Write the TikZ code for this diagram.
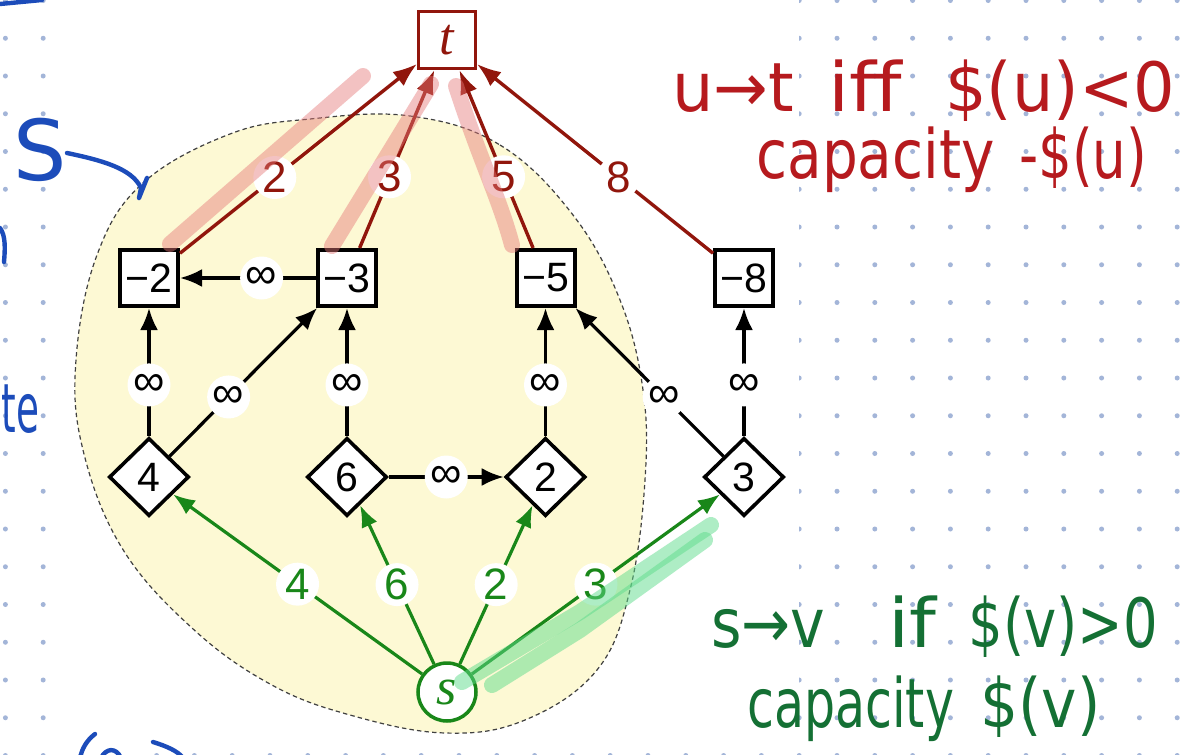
\documentclass[tikz,border=0pt]{standalone}
\usepackage{fontspec}
\usepackage{graphicx}
\usetikzlibrary{arrows.meta,shapes.geometric}
\newfontfamily\labfont{Liberation Sans}
\newfontfamily\handfont{DejaVu Sans}
\newfontfamily\varfont{Liberation Serif}
\definecolor{tred}{RGB}{145,22,12}
\definecolor{sgreen}{RGB}{25,135,25}
\definecolor{blobfill}{RGB}{253,249,212}
\definecolor{dotc}{RGB}{163,181,216}
\definecolor{hred}{RGB}{182,26,30}
\definecolor{hgreen}{RGB}{20,112,52}
\definecolor{hblue}{RGB}{28,76,186}
\definecolor{pinkhl}{RGB}{230,120,120}
\definecolor{greenhl}{RGB}{95,220,140}
\begin{document}
\begin{tikzpicture}[x=0.5pt,y=-0.5pt,
  lf/.style={font=\labfont\fontsize{22}{23}\selectfont},
  nf/.style={font=\labfont\fontsize{20.5}{21}\selectfont},
  sq/.style={nf,draw=black,line width=2pt,fill=white,rectangle,minimum width=29pt,minimum height=28pt,inner sep=0pt},
  dia/.style={nf,draw=black,line width=1.8pt,fill=white,diamond,minimum width=40pt,minimum height=39pt,inner sep=0pt},
  tbox/.style={draw=tred,line width=1.5pt,fill=white,rectangle,minimum size=28.5pt,inner sep=0pt,text=tred,font=\varfont\fontsize{26}{26}\selectfont\itshape},
  sbox/.style={draw=sgreen,line width=1.75pt,fill=white,circle,minimum size=29pt,inner sep=0pt,text=sgreen,font=\varfont\fontsize{26}{26}\selectfont\itshape},
  lab/.style={lf,fill=white,circle,inner sep=0pt,minimum size=21.5pt},
  bedge/.style={draw=black,line width=1.6pt,-{Latex[length=11pt,width=9pt]}},
  redge/.style={draw=tred,line width=1.7pt,-{Latex[length=12pt,width=9pt]}},
  gedge/.style={draw=sgreen,line width=1.6pt,-{Latex[length=11pt,width=8.5pt]}},
  hw/.style={inner sep=0pt,font=\handfont\fontsize{34}{36}\selectfont},
  pen/.style={line width=2.2pt,line cap=round,line join=round},
  pinkmark/.style={draw=pinkhl,line width=8pt,line cap=round,line join=round,opacity=.45},
  greenmark/.style={draw=greenhl,line width=8pt,line cap=round,line join=round,opacity=.5}]
\useasboundingbox (0,0) rectangle (1191,755);
\clip (0,0) rectangle (1191,755);
\fill[white] (0,0) rectangle (1191,755);
% dot grid
\foreach \i in {0,...,31}{\foreach \j in {0,...,20}{\fill[dotc] ({5.4+37.8*\i},{0.5+37.75*\j}) circle (2.5);}}
% pasted diagram background
\fill[white] (62,-5) rectangle (799,742);
% yellow region
\draw[fill=blobfill,draw=black!75,line width=0.6pt,dash pattern=on 2.2pt off 1.6pt]
  plot[smooth cycle,tension=0.65] coordinates {(410,116) (500,145) (573,215) (620,300) (643,390) (645,480) (630,590) (597,670) (525,720) (445,733) (350,715) (270,684) (192,628) (122,548) (83,450) (76,360) (97,255) (143,183) (230,134) (310,119)};
% nodes
\node[tbox] (t) at (447,40) {t};
\node[sq] (m2) at (149,278) {−2};
\node[sq] (m3) at (347,278) {−3};
\node[sq] (m5) at (545.5,278) {−5};
\node[sq] (m8) at (744,278) {−8};
\node[dia] (d4) at (149,477) {4};
\node[dia] (d6) at (347,477) {6};
\node[dia] (d2) at (545.5,477) {2};
\node[dia] (d3) at (744,477) {3};
\node[sbox] (s) at (447,692) {s};
% edges to t
\draw[redge] (m2) -- node[lab,pos=.4,text=tred]{2} (t);
\draw[redge] (m3) -- node[lab,pos=.4,text=tred]{3} (t);
\draw[redge] (m5) -- node[lab,pos=.4,text=tred]{5} (t);
\draw[redge] (m8) -- node[lab,pos=.4,text=tred]{8} (t);
% infinite edges
\draw[bedge] (m3) -- node[lab,pos=.4]{∞} (m2);
\draw[bedge] (d4) -- node[lab,pos=.4]{∞} (m2);
\draw[bedge] (d4) -- node[lab,pos=.4]{∞} (m3);
\draw[bedge] (d6) -- node[lab,pos=.4]{∞} (m3);
\draw[bedge] (d6) -- node[lab,pos=.5]{∞} (d2);
\draw[bedge] (d2) -- node[lab,pos=.4]{∞} (m5);
\draw[bedge] (d3) -- node[lab,pos=.4]{∞} (m5);
\draw[bedge] (d3) -- node[lab,pos=.4]{∞} (m8);
% edges from s
\draw[gedge] (s) -- node[lab,text=sgreen]{4} (d4);
\draw[gedge] (s) -- node[lab,text=sgreen]{6} (d6);
\draw[gedge] (s) -- node[lab,text=sgreen]{2} (d2);
\draw[gedge] (s) -- node[lab,text=sgreen]{3} (d3);
% highlighter marks
\draw[pinkmark] (170,244) -- (363,76);
\draw[pinkmark] (332,246) -- (431,84);
\draw[pinkmark] (512,245) .. controls (500,200) and (480,160) .. (456,86);
\draw[greenmark] (462,682) -- (580,612) -- (711,525);
\draw[greenmark] (492,685) -- (580,630) -- (705,540);
% red notes
\node[hw,text=hred,anchor=base west] (r1a) at (672,112) {\scalebox{0.96}[1]{u→t}};
\node[hw,text=hred,anchor=base west] (r1b) at (828,112) {\scalebox{1.12}[1]{iff}};
\node[hw,text=hred,anchor=base west] (r1c) at (945,112) {\scalebox{0.96}[1]{\$(u)<0}};
\node[hw,text=hred,anchor=base west] (r2a) at (756,178) {\scalebox{0.83}[1]{capacity}};
\node[hw,text=hred,anchor=base west] (r2b) at (1019,178) {\scalebox{0.78}[1]{-\$(u)}};
% green notes
\node[hw,text=hgreen,anchor=base west] (g1a) at (711,647) {\scalebox{0.86}[1]{s→v}};
\node[hw,text=hgreen,anchor=base west] (g1b) at (888,647) {\scalebox{1.12}[1]{if}};
\node[hw,text=hgreen,anchor=base west] (g1c) at (968,647) {\scalebox{0.8}[1]{\$(v)>0}};
\node[hw,text=hgreen,anchor=base west] (g2a) at (747,727) {\scalebox{0.72}[1]{capacity}};
\node[hw,text=hgreen,anchor=base west] (g2b) at (980,727) {\scalebox{0.88}[1]{\$(v)}};
% blue notes
\node[hw,text=hblue,font=\handfont\fontsize{42}{42}\selectfont] (bS) at (40,150) {S};
\draw[hblue,pen] (67,153) .. controls (100,160) and (132,168) .. (141,188) -- (139,198) -- (147,178);
\draw[hblue,pen] (0,4) -- (42,0);
\draw[hblue,pen] (0,228) .. controls (6,236) and (5,250) .. (4,262);
\node[hw,text=hblue,anchor=base west] (bte) at (1,432) {\scalebox{0.55}[1]{te}};
\draw[hblue,pen] (95,734) .. controls (86,741) and (82,749) .. (80,758);
\draw[hblue,pen] (101,758) .. controls (106,748) and (116,747) .. (121,758);
\draw[hblue,pen] (153,742) .. controls (166,746) and (178,751) .. (183,758);
\end{tikzpicture}
\end{document}
